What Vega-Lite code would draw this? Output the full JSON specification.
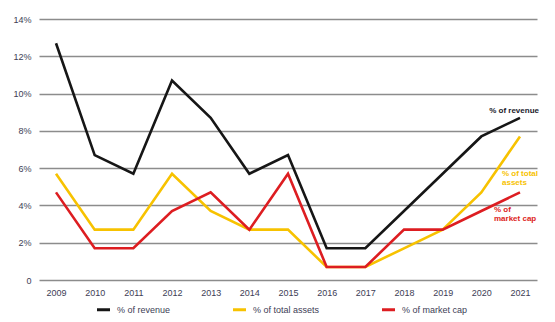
{
  "$schema": "https://vega.github.io/schema/vega-lite/v6.json",
  "width": 498,
  "height": 261,
  "autosize": {"type": "none"},
  "padding": {"left": 39, "top": 19, "right": 18, "bottom": 42},
  "background": "white",
  "config": {
    "view": {"stroke": null},
    "font": "Liberation Sans"
  },
  "data": {
    "values": [
      {"year": "2009", "series": "% of revenue", "value": 12.7},
      {"year": "2010", "series": "% of revenue", "value": 6.7},
      {"year": "2011", "series": "% of revenue", "value": 5.7},
      {"year": "2012", "series": "% of revenue", "value": 10.7},
      {"year": "2013", "series": "% of revenue", "value": 8.7},
      {"year": "2014", "series": "% of revenue", "value": 5.7},
      {"year": "2015", "series": "% of revenue", "value": 6.7},
      {"year": "2016", "series": "% of revenue", "value": 1.7},
      {"year": "2017", "series": "% of revenue", "value": 1.7},
      {"year": "2018", "series": "% of revenue", "value": 3.7},
      {"year": "2019", "series": "% of revenue", "value": 5.7},
      {"year": "2020", "series": "% of revenue", "value": 7.7},
      {"year": "2021", "series": "% of revenue", "value": 8.7},
      {"year": "2009", "series": "% of total assets", "value": 5.7},
      {"year": "2010", "series": "% of total assets", "value": 2.7},
      {"year": "2011", "series": "% of total assets", "value": 2.7},
      {"year": "2012", "series": "% of total assets", "value": 5.7},
      {"year": "2013", "series": "% of total assets", "value": 3.7},
      {"year": "2014", "series": "% of total assets", "value": 2.7},
      {"year": "2015", "series": "% of total assets", "value": 2.7},
      {"year": "2016", "series": "% of total assets", "value": 0.7},
      {"year": "2017", "series": "% of total assets", "value": 0.7},
      {"year": "2018", "series": "% of total assets", "value": 1.7},
      {"year": "2019", "series": "% of total assets", "value": 2.7},
      {"year": "2020", "series": "% of total assets", "value": 4.7},
      {"year": "2021", "series": "% of total assets", "value": 7.7},
      {"year": "2009", "series": "% of market cap", "value": 4.7},
      {"year": "2010", "series": "% of market cap", "value": 1.7},
      {"year": "2011", "series": "% of market cap", "value": 1.7},
      {"year": "2012", "series": "% of market cap", "value": 3.7},
      {"year": "2013", "series": "% of market cap", "value": 4.7},
      {"year": "2014", "series": "% of market cap", "value": 2.7},
      {"year": "2015", "series": "% of market cap", "value": 5.7},
      {"year": "2016", "series": "% of market cap", "value": 0.7},
      {"year": "2017", "series": "% of market cap", "value": 0.7},
      {"year": "2018", "series": "% of market cap", "value": 2.7},
      {"year": "2019", "series": "% of market cap", "value": 2.7},
      {"year": "2020", "series": "% of market cap", "value": 3.7},
      {"year": "2021", "series": "% of market cap", "value": 4.7}
    ]
  },
  "encoding": {
    "x": {
      "field": "year", "type": "ordinal",
      "scale": {"type": "point", "padding": 0.44},
      "axis": {
        "title": null, "labelAngle": 0, "domain": false, "ticks": false,
        "labelFontSize": 9, "labelColor": "#3d3d55", "labelPadding": 8
      }
    },
    "y": {
      "field": "value", "type": "quantitative",
      "scale": {"domain": [0, 14]},
      "axis": {
        "title": null, "values": [0, 2, 4, 6, 8, 10, 12, 14],
        "labelExpr": "datum.value == 0 ? '0' : datum.value + '%'",
        "domain": false, "ticks": false, "labelPadding": 8,
        "labelFontSize": 9, "labelColor": "#3d3d55",
        "gridColor": "#8c8c8c", "gridWidth": 1.6
      }
    }
  },
  "layer": [
    {
      "mark": {"type": "line", "strokeWidth": 2.6, "strokeJoin": "miter"},
      "encoding": {
        "color": {
          "field": "series", "type": "nominal",
          "scale": {
            "domain": ["% of revenue", "% of total assets", "% of market cap"],
            "range": ["#161616", "#f7c200", "#dd1d21"]
          },
          "legend": {
            "title": null, "orient": "none", "direction": "horizontal",
            "legendX": 56, "legendY": 282,
            "symbolType": "stroke", "symbolStrokeWidth": 3, "symbolSize": 170,
            "labelFontSize": 9, "labelColor": "#3d3d55",
            "columnPadding": 55, "labelOffset": 5
          }
        }
      }
    },
    {
      "transform": [{"filter": "datum.year == '2021' && datum.series == '% of revenue'"}],
      "mark": {"type": "text", "align": "right", "dx": 19, "dy": -7, "fontSize": 8, "fontWeight": "bold", "color": "#1a1a2a"},
      "encoding": {"text": {"field": "series"}}
    },
    {
      "transform": [{"filter": "datum.year == '2021' && datum.series == '% of total assets'"}],
      "mark": {"type": "text", "align": "left", "baseline": "middle", "dx": -18, "dy": 38, "fontSize": 8, "fontWeight": "bold", "color": "#f7c200", "lineHeight": 9, "text": ["% of total", "assets"]},
      "encoding": {}
    },
    {
      "transform": [{"filter": "datum.year == '2021' && datum.series == '% of market cap'"}],
      "mark": {"type": "text", "align": "left", "baseline": "middle", "dx": -26, "dy": 18, "fontSize": 8, "fontWeight": "bold", "color": "#dd1d21", "lineHeight": 9, "text": ["% of", "market cap"]},
      "encoding": {}
    }
  ]
}
